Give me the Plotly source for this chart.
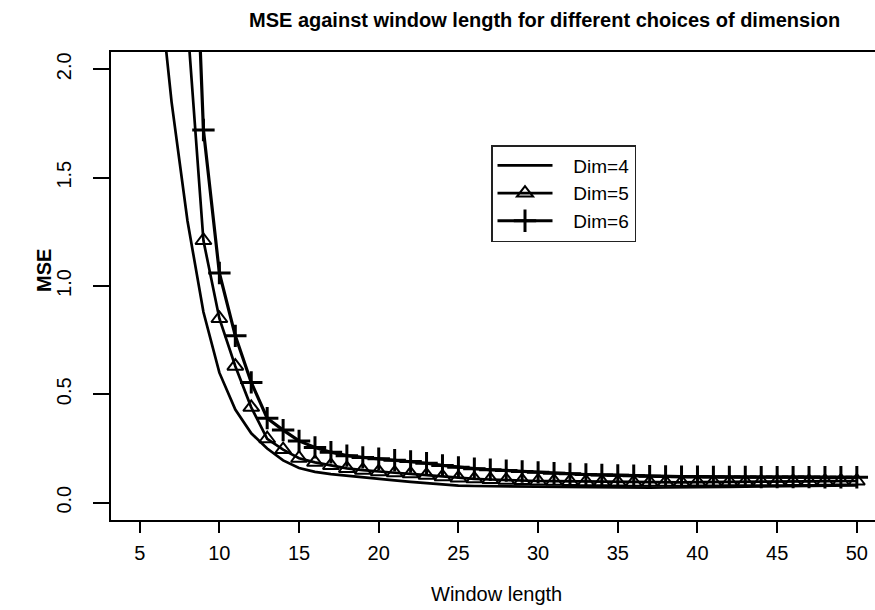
import plotly.graph_objects as go

window_length = list(range(5, 51))

mse_dim4 = [3.9, 2.55, 1.85, 1.30, 0.88, 0.60, 0.43, 0.32, 0.25, 0.195,
            0.16, 0.142, 0.132, 0.124, 0.117, 0.11, 0.103, 0.096, 0.09, 0.084,
            0.079, 0.077, 0.076, 0.075, 0.074, 0.074, 0.073, 0.072, 0.071, 0.070,
            0.070, 0.069, 0.069, 0.070, 0.070, 0.071, 0.072, 0.073, 0.074, 0.075,
            0.076, 0.077, 0.078, 0.079, 0.080, 0.080]

mse_dim5 = [6.0, 4.5, 3.2, 2.21, 1.21, 0.85, 0.63, 0.44, 0.295, 0.245,
            0.205, 0.186, 0.172, 0.158, 0.150, 0.143, 0.138, 0.133, 0.127, 0.120,
            0.114, 0.110, 0.107, 0.104, 0.102, 0.100, 0.099, 0.098, 0.097, 0.096,
            0.095, 0.094, 0.094, 0.094, 0.094, 0.095, 0.095, 0.096, 0.096, 0.097,
            0.097, 0.098, 0.098, 0.099, 0.100, 0.100]

mse_dim6 = [9.0, 7.0, 5.5, 3.6, 1.72, 1.06, 0.77, 0.555, 0.39, 0.335,
            0.285, 0.255, 0.233, 0.217, 0.209, 0.203, 0.196, 0.190, 0.182, 0.172,
            0.163, 0.157, 0.152, 0.148, 0.144, 0.140, 0.136, 0.133, 0.130, 0.128,
            0.126, 0.124, 0.122, 0.121, 0.120, 0.120, 0.119, 0.119, 0.119, 0.118,
            0.118, 0.118, 0.118, 0.117, 0.117, 0.117]

series_names = ["Dim=4", "Dim=5", "Dim=6"]
x_ticks = [5, 10, 15, 20, 25, 30, 35, 40, 45, 50]
y_ticks = [0.0, 0.5, 1.0, 1.5, 2.0]
y_tick_text = ["0.0", "0.5", "1.0", "1.5", "2.0"]

FONT = "Liberation Sans, Arial, sans-serif"
PAD = "\u00a0\u00a0\u00a0"

fig = go.Figure()
fig.add_trace(go.Scatter(x=window_length, y=mse_dim4, mode="lines", name=PAD + series_names[0],
                         line=dict(color="black", width=2.7)))
fig.add_trace(go.Scatter(x=window_length, y=mse_dim5, mode="lines+markers", name=PAD + series_names[1],
                         line=dict(color="black", width=2.7),
                         marker=dict(symbol="triangle-up-open", size=14, color="black",
                                     line=dict(width=2, color="black"))))
fig.add_trace(go.Scatter(x=window_length, y=mse_dim6, mode="lines+markers", name=PAD + series_names[2],
                         line=dict(color="black", width=3.2),
                         marker=dict(symbol="cross-thin", size=16, color="black",
                                     line=dict(width=3, color="black"))))

W, H = 875, 610
L, R, T, B = 111, 0, 52, 90

fig.update_layout(
    width=W, height=H,
    margin=dict(l=L, r=R, t=T, b=B),
    paper_bgcolor="white", plot_bgcolor="white",
    font=dict(family=FONT, color="black"),
    showlegend=True,
    legend=dict(x=(491 - L) / (W - L - R), y=(H - B - 145) / (H - T - B),
                xanchor="left", yanchor="top",
                bordercolor="#222", borderwidth=1.5, bgcolor="white",
                font=dict(size=19, family=FONT, color="black"),
                itemwidth=55, tracegroupgap=0),
    xaxis=dict(range=[3.2, 51.14], tickmode="array", tickvals=x_ticks,
               ticks="outside", ticklen=11, tickwidth=1.5, tickcolor="black",
               showline=True, linecolor="black", linewidth=1.5, mirror=True,
               showgrid=False, zeroline=False, ticklabelstandoff=3,
               tickfont=dict(size=20, family=FONT, color="black")),
    yaxis=dict(range=[-0.08, 2.08], tickmode="array", tickvals=y_ticks, ticktext=y_tick_text,
               ticks="outside", ticklen=16, tickwidth=1.5, tickcolor="black",
               showline=True, linecolor="black", linewidth=1.5, mirror=False,
               showgrid=False, zeroline=False, tickangle=-90, ticklabelstandoff=14,
               tickfont=dict(size=20, family=FONT, color="black")),
    annotations=[
        dict(text="<b>MSE against window length for different choices of dimension</b>",
             xref="paper", yref="paper", x=(544 - L) / (W - L - R), y=(H - B - 20) / (H - T - B),
             xanchor="center", yanchor="middle", showarrow=False,
             font=dict(size=20, family=FONT, color="black")),
        dict(text="Window length", xref="paper", yref="paper",
             x=(497 - L) / (W - L - R), y=(H - B - 594) / (H - T - B),
             xanchor="center", yanchor="middle", showarrow=False,
             font=dict(size=20, family=FONT, color="black")),
        dict(text="<b>MSE</b>", xref="paper", yref="paper",
             x=(44 - L) / (W - L - R), y=(H - B - 271) / (H - T - B),
             xanchor="center", yanchor="middle", showarrow=False, textangle=-90,
             font=dict(size=20, family=FONT, color="black")),
    ],
)

fig.write_html("out.html")
